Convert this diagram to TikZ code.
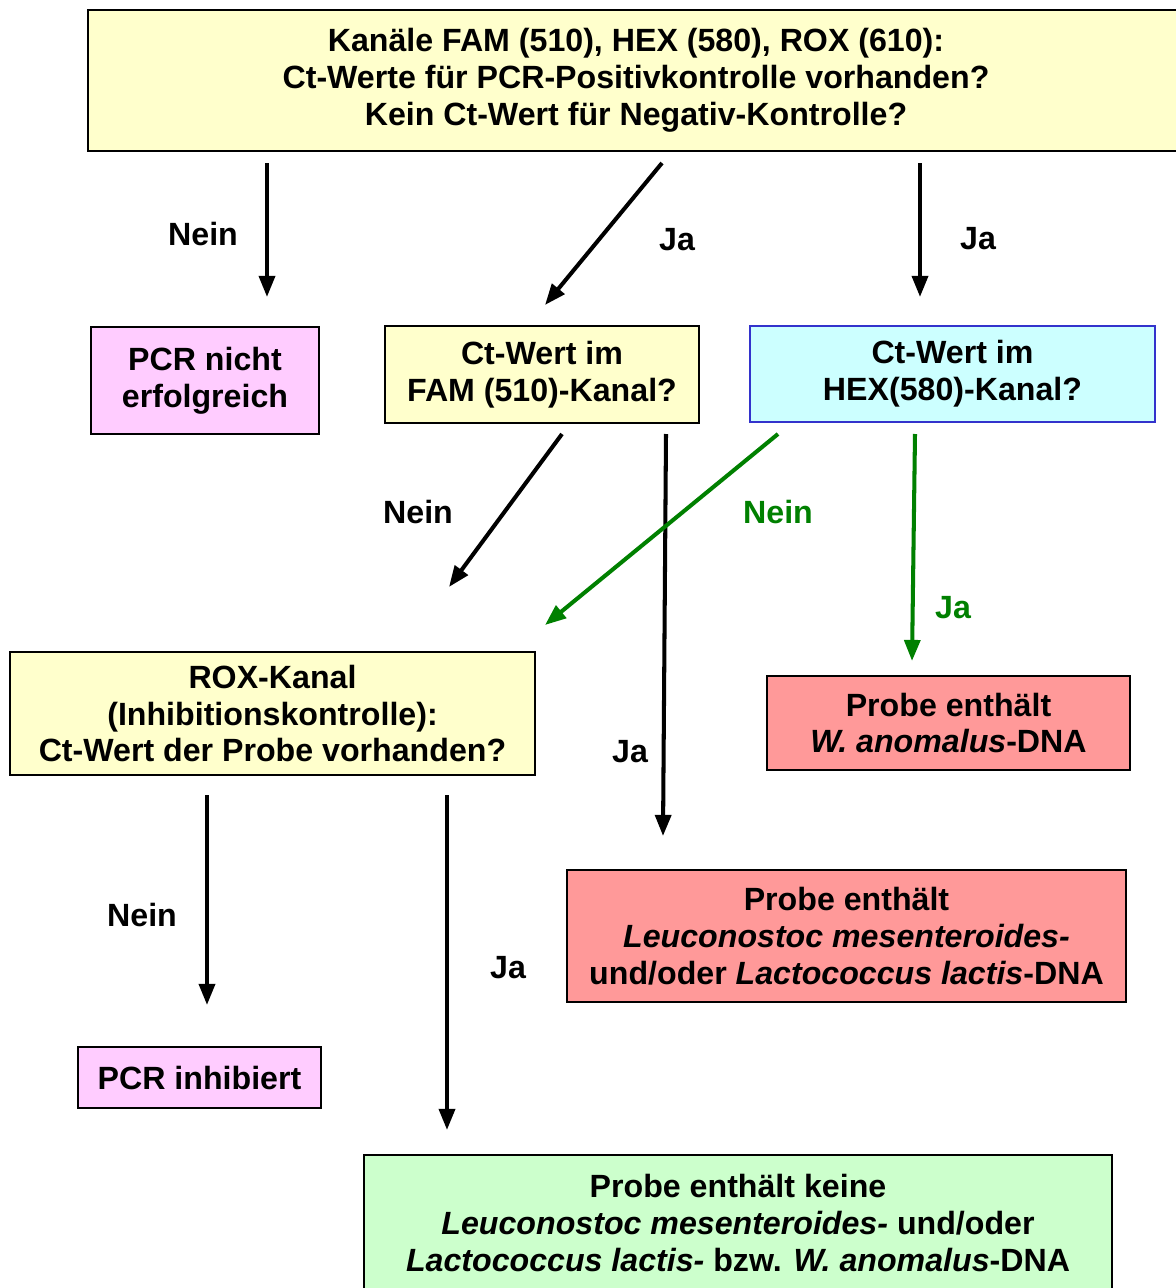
\documentclass[tikz,border=0pt]{standalone}
\usepackage{fontspec}
\setmainfont{Liberation Sans}
\usetikzlibrary{arrows.meta}
\definecolor{cyel}{HTML}{FFFFCC}
\definecolor{cpink}{HTML}{FFCCFF}
\definecolor{ccyan}{HTML}{CCFFFF}
\definecolor{csalmon}{HTML}{FF9999}
\definecolor{cgreenbox}{HTML}{CCFFCC}
\definecolor{cgreen}{HTML}{008000}
\definecolor{cblueborder}{HTML}{3333CC}
\begin{document}
\begin{tikzpicture}[x=0.02cm,y=-0.02cm,
  box/.style={draw=black,line width=1.1pt,inner sep=0pt,align=center,
    font=\fontsize{18.3}{21}\selectfont\bfseries},
  lbl/.style={font=\fontsize{18.3}{21}\selectfont\bfseries,inner sep=0pt},
  arr/.style={line width=2.3pt,-{Triangle[length=12pt,width=9pt]}},
  garr/.style={arr,draw=cgreen,color=cgreen}]
\useasboundingbox (0,0) rectangle (1176,1288);
% boxes
\node[box,fill=cyel,minimum width=21.92cm,minimum height=2.82cm] (top) at (636,80.5)
  {Kanäle FAM (510), HEX (580), ROX (610):\\Ct-Werte für PCR-Positivkontrolle vorhanden?\\Kein Ct-Wert für Negativ-Kontrolle?};
\node[box,fill=cpink,minimum width=4.56cm,minimum height=2.14cm] (fail) at (205,380.5)
  {PCR nicht\\erfolgreich};
\node[box,fill=cyel,minimum width=6.28cm,minimum height=1.94cm] (fam) at (542,374.5)
  {Ct-Wert im\\FAM (510)-Kanal?};
\node[box,draw=cblueborder,fill=ccyan,minimum width=8.10cm,minimum height=1.92cm] (hex) at (952.5,374)
  {Ct-Wert im\\HEX(580)-Kanal?};
\node[box,fill=cyel,minimum width=10.5cm,minimum height=2.46cm] (rox) at (272.5,713.5)
  {ROX-Kanal\\(Inhibitionskontrolle):\\Ct-Wert der Probe vorhanden?};
\node[box,fill=csalmon,minimum width=7.26cm,minimum height=1.88cm] (wan) at (948.5,723)
  {Probe enthält\\\textit{W. anomalus}-DNA};
\node[box,fill=csalmon,minimum width=11.18cm,minimum height=2.64cm] (leu) at (846.5,936)
  {Probe enthält\\\textit{Leuconostoc mesenteroides-}\\und/oder \textit{Lactococcus lactis}-DNA};
\node[box,fill=cpink,minimum width=4.86cm,minimum height=1.22cm] (inh) at (199.5,1077.5)
  {PCR inhibiert};
\node[box,fill=cgreenbox,minimum width=14.96cm,minimum height=2.72cm] (keine) at (738,1223)
  {Probe enthält keine\\\textit{Leuconostoc mesenteroides-} und/oder\\\textit{Lactococcus lactis-} bzw. \textit{W. anomalus}-DNA};
% connector end points
\coordinate (a1s) at (267,163); \coordinate (a1e) at (267,297);
\coordinate (a2s) at (662,163); \coordinate (a2e) at (545,305);
\coordinate (a3s) at (920,163); \coordinate (a3e) at (920,297);
\coordinate (a4s) at (562,434); \coordinate (a4e) at (449,587);
\coordinate (a5s) at (666,434); \coordinate (a5e) at (663,836);
\coordinate (a6s) at (778,434); \coordinate (a6e) at (545,625);
\coordinate (a7s) at (915,434); \coordinate (a7e) at (912,661);
\coordinate (a8s) at (207,795); \coordinate (a8e) at (207,1005);
\coordinate (a9s) at (447,795); \coordinate (a9e) at (447,1130);
% connectors
\draw[arr] (a1s) -- (a1e);
\draw[arr] (a2s) -- (a2e);
\draw[arr] (a3s) -- (a3e);
\draw[arr] (a4s) -- (a4e);
\draw[arr] (a5s) -- (a5e);
\draw[garr] (a6s) -- (a6e);
\draw[garr] (a7s) -- (a7e);
\draw[arr] (a8s) -- (a8e);
\draw[arr] (a9s) -- (a9e);
% labels
\node[lbl] (l1) at (203,234) {Nein};
\node[lbl] (l2) at (677,240) {Ja};
\node[lbl] (l3) at (978,239) {Ja};
\node[lbl] (l4) at (418,512) {Nein};
\node[lbl] (l5) at (630,752) {Ja};
\node[lbl,text=cgreen] (l6) at (778,512) {Nein};
\node[lbl,text=cgreen] (l7) at (953,608) {Ja};
\node[lbl] (l8) at (142,915) {Nein};
\node[lbl] (l9) at (508,968) {Ja};
\end{tikzpicture}
\end{document}
